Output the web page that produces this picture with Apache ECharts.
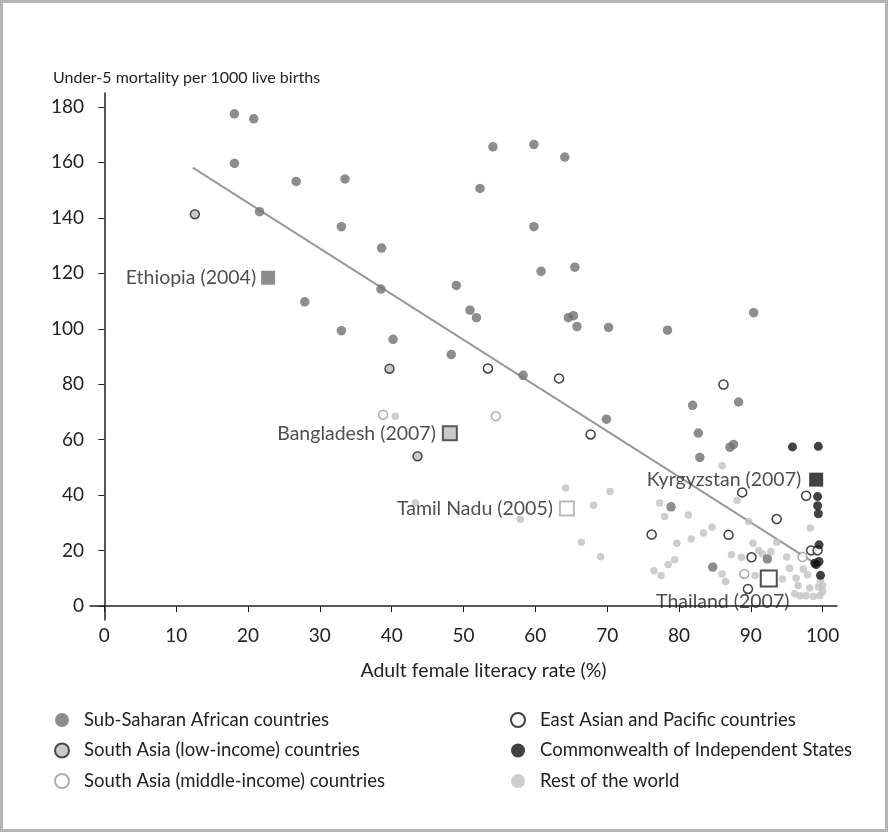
<!DOCTYPE html>
<html>
<head>
<meta charset="utf-8">
<script src="https://cdn.jsdelivr.net/npm/echarts@6/dist/echarts.min.js"></script>
<style>
html,body{margin:0;padding:0;background:#fff;}
#chart{width:888px;height:832px;}
</style>
</head>
<body>
<div id="chart"></div>
<script>
// ---- data ----
const xTicks = [0, 10, 20, 30, 40, 50, 60, 70, 80, 90, 100];
const yTicks = [0, 20, 40, 60, 80, 100, 120, 140, 160, 180];

const subSaharan = [
  [18.1,177.5],[20.8,175.7],[18.1,159.6],[26.7,153.1],[33.5,154.0],[21.6,142.2],[33.0,136.8],
  [38.6,129.1],[38.5,114.3],[27.9,109.7],[33.0,99.3],[54.1,165.6],[59.8,166.4],[64.1,161.9],
  [52.3,150.6],[59.8,136.8],[60.8,120.7],[65.5,122.2],[49.0,115.6],[50.9,106.7],[51.8,104.0],
  [64.6,104.0],[65.3,104.7],[65.8,100.8],[70.2,100.5],[78.4,99.5],[90.4,105.8],[40.2,96.2],
  [48.3,90.7],[58.3,83.2],[69.9,67.4],[81.9,72.4],[88.3,73.6],[82.7,62.4],[87.1,57.3],
  [87.6,58.3],[82.9,53.6],[78.9,35.8],[84.7,14.1],[92.3,17.0]
];
const southAsiaLow = [[12.6,141.3],[39.7,85.6],[43.6,54.0]];
const southAsiaMid = [[38.8,69.0],[54.5,68.5],[97.2,17.7],[89.1,11.6]];
const eastAsia = [
  [53.4,85.7],[63.3,82.1],[67.7,61.9],[86.2,79.9],[88.8,41.0],[97.7,39.8],[93.6,31.4],
  [76.2,25.8],[86.9,25.7],[90.1,17.6],[98.4,20.1],[99.3,20.1],[89.6,6.2]
];
const cis = [
  [95.8,57.4],[99.4,57.6],[99.3,39.5],[99.3,36.2],[99.4,33.3],[99.5,22.1],[98.9,15.5],
  [99.5,16.1],[99.1,15.0],[99.7,11.1]
];
const restOfWorld = [
  [40.5,68.5],[43.3,37.2],[64.2,42.6],[70.4,41.3],[68.1,36.4],[57.9,31.3],[66.4,23.0],[69.1,17.8],
  [86.0,50.6],[88.1,38.1],[77.3,37.2],[78.0,32.3],[81.3,32.9],[98.3,28.2],[84.6,28.4],[83.4,26.4],
  [89.7,30.5],[81.7,24.2],[79.7,22.7],[79.4,16.7],[78.5,15.0],[76.5,12.8],[77.5,11.0],
  [90.3,22.7],[93.6,23.0],[91.1,20.1],[91.6,18.9],[92.8,19.7],[88.7,17.6],[87.3,18.5],[95.0,17.7],
  [86.0,11.6],[86.5,8.9],[90.6,11.0],[94.4,9.8],[95.4,13.7],[96.3,10.1],[97.3,13.4],[97.9,11.3],
  [96.6,7.4],[98.2,6.5],[99.4,6.9],[100.0,7.4],[99.7,9.3],[96.1,4.5],[96.9,3.7],[97.7,3.7],
  [98.7,3.5],[99.6,3.7],[100.0,5.3]
];
const highlightNames = ['Ethiopia (2004)', 'Bangladesh (2007)', 'Tamil Nadu (2005)', 'Kyrgyzstan (2007)', 'Thailand (2007)'];
const highlightX = [22.8, 48.1, 64.4, 99.1, 92.5];
const highlightY = [118.4, 62.3, 35.2, 45.6, 10.0];
const trendX = [12.3, 99.5];
const trendY = [158.1, 14.5];

const groupNames = [
  'Sub-Saharan African countries', 'East Asian and Pacific countries',
  'South Asia (low-income) countries', 'Commonwealth of Independent States',
  'South Asia (middle-income) countries', 'Rest of the world'
];
const xTitle = 'Adult female literacy rate (%)';
const yTitle = 'Under-5 mortality per 1000 live births';

// ---- styles ----
const FONT = 'Lato, "Open Sans", sans-serif';
const TXT = '#222';
const styles = {
  'Sub-Saharan African countries': {size: 9.5, itemStyle: {color: '#707070'}},
  'South Asia (low-income) countries': {size: 9, itemStyle: {color: '#bdbdbd', borderColor: '#222', borderWidth: 1.5}},
  'South Asia (middle-income) countries': {size: 9, itemStyle: {color: '#fff', borderColor: '#9a9a9a', borderWidth: 1.5}},
  'East Asian and Pacific countries': {size: 9, itemStyle: {color: '#fff', borderColor: '#111', borderWidth: 1.5}},
  'Commonwealth of Independent States': {size: 9, itemStyle: {color: '#111'}},
  'Rest of the world': {size: 7.5, itemStyle: {color: '#c2c2c2'}}
};
const groupData = {
  'Sub-Saharan African countries': subSaharan,
  'South Asia (low-income) countries': southAsiaLow,
  'South Asia (middle-income) countries': southAsiaMid,
  'East Asian and Pacific countries': eastAsia,
  'Commonwealth of Independent States': cis,
  'Rest of the world': restOfWorld
};
const hlStyles = [
  {itemStyle: {color: '#707070'}, size: 14, label: {position: 'left', distance: 5}},
  {itemStyle: {color: '#bdbdbd', borderColor: '#333', borderWidth: 2}, size: 14, label: {position: 'left', distance: 6}},
  {itemStyle: {color: '#fff', borderColor: '#aaa', borderWidth: 2}, size: 14, label: {position: 'left', distance: 6}},
  {itemStyle: {color: '#111'}, size: 14, label: {position: 'left', distance: 8}},
  {itemStyle: {color: '#fff', borderColor: '#222', borderWidth: 2}, size: 16, label: {position: 'bottom', distance: 4, offset: [-46, 0]}}
];

const order = ['Rest of the world', 'South Asia (middle-income) countries', 'Sub-Saharan African countries',
  'South Asia (low-income) countries', 'East Asian and Pacific countries', 'Commonwealth of Independent States'];

const series = order.map(function (name) {
  return {
    type: 'scatter', name: name, data: groupData[name],
    symbol: 'circle', symbolSize: styles[name].size,
    itemStyle: styles[name].itemStyle, z: 3,
    emphasis: {disabled: true}
  };
});
series.unshift({
  type: 'line', name: 'trend', data: trendX.map(function (x, i) { return [x, trendY[i]]; }),
  symbol: 'none', lineStyle: {color: '#999', width: 2}, z: 2, silent: true
});
series.push({
  type: 'scatter', name: 'highlights', z: 5,
  symbol: 'rect',
  data: highlightNames.map(function (n, i) {
    return {
      name: n, value: [highlightX[i], highlightY[i]],
      symbolSize: hlStyles[i].size, itemStyle: hlStyles[i].itemStyle,
      label: Object.assign({show: true, formatter: '{b}', color: TXT, fontSize: 19.5, fontFamily: FONT}, hlStyles[i].label)
    };
  }),
  emphasis: {disabled: true}
});

function legendCfg(names, left) {
  return {
    orient: 'vertical', left: left, top: 710, itemGap: 10.5,
    itemWidth: 14, itemHeight: 14, icon: 'circle', padding: 0,
    textStyle: {fontSize: 18.5, lineHeight: 20, color: TXT, fontFamily: FONT, padding: [0, 0, 0, 10]},
    data: names, selectedMode: false
  };
}

const chart = echarts.init(document.getElementById('chart'), null, {renderer: 'canvas'});
chart.setOption({
  animation: false,
  backgroundColor: '#fff',
  title: {text: yTitle, left: 53, top: 70, padding: 0, textStyle: {fontSize: 16, fontWeight: 'normal', color: TXT, fontFamily: FONT}},
  grid: {left: 90, top: 93, width: 747, height: 527, containLabel: false},
  xAxis: {
    type: 'value', min: -2, max: 102,
    name: xTitle, nameLocation: 'middle', nameGap: 41,
    nameTextStyle: {fontSize: 19.5, color: TXT, fontFamily: FONT, padding: [0, 0, 0, 40]},
    axisLine: {show: true, lineStyle: {color: '#222', width: 1.5}},
    axisTick: {show: true, length: 6, lineStyle: {color: '#222'}, customValues: xTicks},
    axisLabel: {fontSize: 19, color: TXT, fontFamily: FONT, margin: 6, customValues: xTicks},
    splitLine: {show: false}
  },
  yAxis: {
    type: 'value', min: -5, max: 185,
    axisLine: {show: true, lineStyle: {color: '#222', width: 1.5}},
    axisTick: {show: true, length: 6, lineStyle: {color: '#222'}, customValues: yTicks},
    axisLabel: {fontSize: 19, color: TXT, fontFamily: FONT, margin: 6, customValues: yTicks},
    splitLine: {show: false}
  },
  legend: [
    legendCfg([groupNames[0], groupNames[2], groupNames[4]], 54),
    legendCfg([groupNames[1], groupNames[3], groupNames[5]], 510)
  ],
  graphic: [{
    type: 'rect', shape: {x: 1.5, y: 1.5, width: 885, height: 829},
    style: {fill: 'none', stroke: '#b3b3b3', lineWidth: 3}, silent: true, z: 100
  }],
  series: series
});
</script>
</body>
</html>
